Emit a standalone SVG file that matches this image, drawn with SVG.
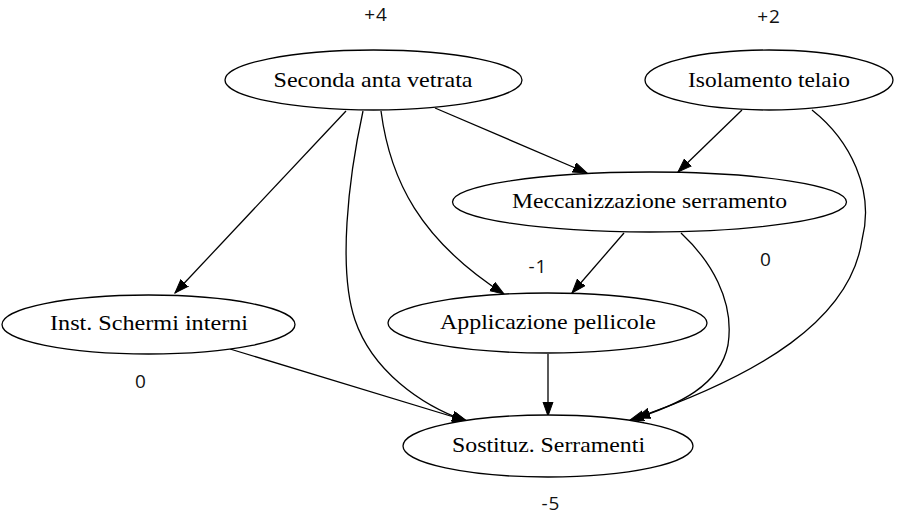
<svg xmlns="http://www.w3.org/2000/svg" width="898" height="517" viewBox="0 0 898 517">
<style>
.node ellipse{fill:#fff;stroke:#000;stroke-width:1.3}
.node text{font-family:"Liberation Serif","Times New Roman",serif;font-size:22px;fill:#000;text-anchor:middle}
.edge{fill:none;stroke:#000;stroke-width:1.3;marker-end:url(#arr)}
.lbl{font-family:"Open Sans","Noto Sans",sans-serif;font-size:19px;fill:#111;text-anchor:middle;letter-spacing:1px}
</style>
<defs>
<marker id="arr" markerUnits="userSpaceOnUse" markerWidth="16" markerHeight="12" refX="14" refY="5.5" orient="auto">
<path d="M0,0.5 L14,5.5 L0,10.5 z" fill="#000" stroke="#000" stroke-width="1"/>
</marker>
</defs>
<rect width="898" height="517" fill="#fff"/>
<g id="connectors">
<path class="edge" d="M346,111 L175,293"/>
<path class="edge" d="M363,111 C348,180 338,270 355,320 C372,370 420,405 466,421"/>
<path class="edge" d="M381,111 C390,180 420,240 504,294"/>
<path class="edge" d="M435,108 L587,173"/>
<path class="edge" d="M742,110 L678,172"/>
<path class="edge" d="M812,110 C850,140 875,190 862,240 C850,320 760,375 636,418"/>
<path class="edge" d="M624,233 L572,293"/>
<path class="edge" d="M681,233 C710,260 735,300 728,345 C720,385 680,405 630,420"/>
<path class="edge" d="M230,349 L467,421"/>
<path class="edge" d="M548,354 L548,416"/>
</g>
<g id="n_seconda" class="node"><ellipse cx="373.5" cy="80" rx="148.5" ry="30"/><text x="373" y="87" textLength="199" lengthAdjust="spacingAndGlyphs">Seconda anta vetrata</text></g>
<g id="n_isolamento" class="node"><ellipse cx="769" cy="80" rx="124" ry="30"/><text x="769" y="87" textLength="162" lengthAdjust="spacingAndGlyphs">Isolamento telaio</text></g>
<g id="n_mecc" class="node"><ellipse cx="649.5" cy="202" rx="197" ry="30"/><text x="649.5" y="208" textLength="275" lengthAdjust="spacingAndGlyphs">Meccanizzazione serramento</text></g>
<g id="n_inst" class="node"><ellipse cx="148.5" cy="324.5" rx="146.5" ry="29.5"/><text x="149" y="330" textLength="198" lengthAdjust="spacingAndGlyphs">Inst. Schermi interni</text></g>
<g id="n_appl" class="node"><ellipse cx="547.5" cy="323" rx="159.5" ry="30"/><text x="548" y="329" textLength="216" lengthAdjust="spacingAndGlyphs">Applicazione pellicole</text></g>
<g id="n_sost" class="node"><ellipse cx="548" cy="446" rx="145" ry="31"/><text x="548.5" y="452" textLength="193" lengthAdjust="spacingAndGlyphs">Sostituz. Serramenti</text></g>
<g id="labels">
<text class="lbl" x="376" y="21">+4</text>
<text class="lbl" x="769" y="23">+2</text>
<text class="lbl" x="538" y="273">-1</text>
<text class="lbl" x="766" y="266">0</text>
<text class="lbl" x="141" y="388">0</text>
<text class="lbl" x="551" y="510">-5</text>
</g>
</svg>
